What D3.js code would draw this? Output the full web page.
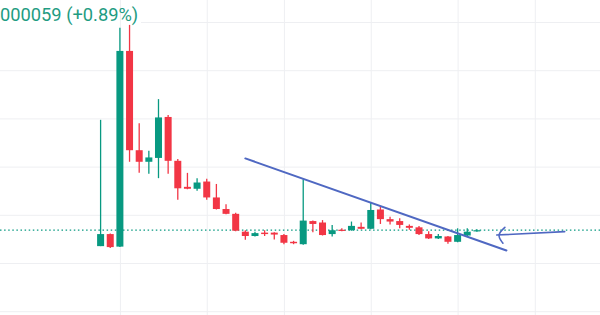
<!DOCTYPE html>
<html>
<head>
<meta charset="utf-8">
<script src="https://cdn.jsdelivr.net/npm/d3@7"></script>
<style>
  html, body { margin: 0; padding: 0; background: #ffffff; overflow: hidden; }
  svg { display: block; }
</style>
</head>
<body>
<svg id="chart" width="600" height="315"></svg>
<script>
// ---- data (price in chart units) ----
const candleIndex = d3.range(40);
const opens  = [53.5,56.0,53.4,94.0,73.4,71.0,71.8,80.3,71.2,65.8,65.4,66.9,63.6,61.2,60.2,56.5,55.6,56.3,56.3,55.8,54.4,53.9,58.7,58.4,56.0,56.9,56.8,57.5,57.1,61.1,59.1,58.7,57.7,57.4,56.0,55.1,55.5,54.4,55.7,56.6];
const highs  = [79.7,56.1,98.8,99.4,79.0,73.3,84.0,80.7,71.6,68.7,67.6,67.5,66.4,62.2,60.4,56.8,56.5,56.8,56.4,56.0,54.6,67.4,58.8,58.9,57.9,57.2,58.6,58.4,62.5,61.7,59.6,59.3,58.0,57.7,56.6,56.0,55.6,57.2,57.2,57.0];
const lows   = [53.5,53.1,53.3,71.0,68.7,68.5,67.6,68.5,63.1,65.3,65.0,63.1,61.1,60.1,56.6,54.8,55.5,55.6,54.9,53.9,53.9,53.8,56.4,55.7,55.5,56.6,56.7,57.0,57.0,58.1,58.0,57.2,56.9,55.8,55.0,55.0,54.0,54.3,55.6,56.5];
const closes = [56.0,53.3,94.0,73.4,71.0,71.9,80.2,71.2,65.5,65.4,66.7,63.6,61.2,60.2,56.7,55.6,56.2,56.0,55.9,54.2,54.1,58.8,58.1,55.8,56.8,56.7,57.7,57.1,61.0,59.1,58.6,57.9,57.3,56.0,55.1,55.6,54.4,55.8,56.5,56.8];
const xGridTicks = [2, 11, 19, 28, 37, 45];
const yGridTicks = [40, 50, 60, 70, 80, 90, 100];
const headerLabel = "000059 (+0.89%)";
// trendline and arrow drawn on the chart (index, price)
const trendLine = [[15.0, 71.7], [42.06, 52.6]];
const arrowShaft = [[48.1, 56.5], [41.05, 55.8]];
const arrowHead = [[41.9, 57.4], [41.05, 55.8], [41.7, 54.1]];

const upColor = "#089981", downColor = "#f23645";
const gridColor = "#eeeff2", drawColor = "#4f68c2";

const svg = d3.select("#chart");
const W = 600, H = 315;

const x = d3.scaleLinear().domain([0, 39]).range([100.6, 476.9]);
const y = d3.scaleLinear().domain([40, 100]).range([311.2, 22]);

// horizontal grid
svg.append("g")
  .attr("transform", `translate(${W},0)`)
  .call(d3.axisLeft(y).tickValues(yGridTicks).tickSize(W).tickFormat(""))
  .call(g => g.select(".domain").remove())
  .call(g => g.selectAll("line").attr("stroke", gridColor).attr("stroke-width", 1));

// header background
svg.append("rect").attr("x", 0).attr("y", 4).attr("width", 141).attr("height", 26).attr("fill", "#ffffff");

// vertical grid
svg.append("g")
  .attr("transform", `translate(0,${H})`)
  .call(d3.axisTop(x).tickValues(xGridTicks).tickSize(H).tickFormat(""))
  .call(g => g.select(".domain").remove())
  .call(g => g.selectAll("line").attr("stroke", gridColor).attr("stroke-width", 1));

svg.append("text")
  .attr("x", 0).attr("y", 20.5)
  .attr("font-family", "Roboto, 'Noto Sans', sans-serif")
  .attr("font-size", 18.3)
  .attr("fill", "#1f9c82")
  .text(headerLabel);

// last price dotted line
const lastClose = closes[closes.length - 1];
svg.append("line")
  .attr("x1", 0).attr("x2", W)
  .attr("y1", y(lastClose)).attr("y2", y(lastClose))
  .attr("stroke", upColor).attr("stroke-width", 1.2)
  .attr("stroke-dasharray", "1.5 2.6");

// candles
const candles = candleIndex.map(i => ({ i, o: opens[i], h: highs[i], l: lows[i], c: closes[i] }));
const bw = 7;
const cg = svg.append("g");
cg.selectAll("line.wick").data(candles).join("line")
  .attr("class", "wick")
  .attr("x1", d => x(d.i)).attr("x2", d => x(d.i))
  .attr("y1", d => y(d.h)).attr("y2", d => y(d.l))
  .attr("stroke", d => d.c >= d.o ? upColor : downColor)
  .attr("stroke-width", 1.3);
cg.selectAll("rect.body").data(candles).join("rect")
  .attr("class", "body")
  .attr("x", d => x(d.i) - bw / 2)
  .attr("width", bw)
  .attr("y", d => y(Math.max(d.o, d.c)))
  .attr("height", d => Math.max(1.2, Math.abs(y(d.o) - y(d.c))))
  .attr("fill", d => d.c >= d.o ? upColor : downColor);

// drawings
const line = d3.line().x(d => x(d[0])).y(d => y(d[1]));
svg.append("path").attr("d", line(trendLine))
  .attr("fill", "none").attr("stroke", drawColor).attr("stroke-width", 2).attr("stroke-linecap", "round");
svg.append("path").attr("d", line(arrowShaft))
  .attr("fill", "none").attr("stroke", drawColor).attr("stroke-width", 1.6).attr("stroke-linecap", "round");
svg.append("path").attr("d", d3.line().x(d => x(d[0])).y(d => y(d[1])).curve(d3.curveBasis)(arrowHead))
  .attr("fill", "none").attr("stroke", drawColor).attr("stroke-width", 1.6).attr("stroke-linecap", "round");
</script>
</body>
</html>
